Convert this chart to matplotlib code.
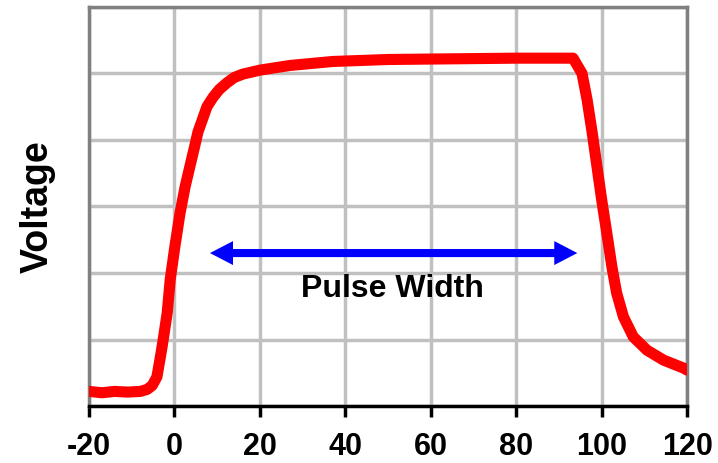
import numpy as np
import matplotlib.pyplot as plt

plt.rcParams['font.family'] = ['Liberation Sans', 'DejaVu Sans']

# pulse trace (time, voltage in grid units)
time = [-20, -17, -14, -11, -8, -6.4, -5.2, -4.1, -2.9, -1.7, -1.0, 0.1, 1.3, 2.5,
        3.6, 4.6, 5.5, 7.6, 9.0, 10.5, 12.3, 14.0, 16.0, 20, 27, 37, 50, 65, 80,
        90, 93.3, 95.4, 96.6, 97.8, 98.9, 100.0, 101.2, 102.4, 103.5, 105.1,
        107.4, 110.6, 114.5, 119.2, 120]
voltage = [0.22, 0.20, 0.22, 0.21, 0.22, 0.25, 0.31, 0.44, 0.89, 1.4, 1.9, 2.4,
           2.9, 3.3, 3.6, 3.87, 4.12, 4.5, 4.64, 4.76, 4.86, 4.94, 4.99, 5.05,
           5.12, 5.18, 5.21, 5.22, 5.23, 5.23, 5.23, 5.0, 4.6, 4.1, 3.6, 3.1, 2.6,
           2.09, 1.7, 1.34, 1.04, 0.84, 0.69, 0.57, 0.54]

xticks = [-20, 0, 20, 40, 60, 80, 100, 120]
arrow_x = [8.3, 94.3]
arrow_y = 2.3
head_len = 5.4

fig = plt.figure(figsize=(7.18, 4.63), dpi=100)
ax = fig.add_axes([0.124, 0.123, 0.833, 0.862])

ax.plot(time, voltage, color='#FF0000', lw=8, solid_joinstyle='round',
        solid_capstyle='round', zorder=3)

# double-headed arrow: two overlapping filled arrows pointing opposite ways
for start, end in [(arrow_x[1] - head_len, arrow_x[0]),
                   (arrow_x[0] + head_len, arrow_x[1])]:
    ax.arrow(start, arrow_y, end - start, 0, width=0.12, head_width=0.36,
             head_length=head_len, length_includes_head=True, lw=0,
             color='#0000FF', zorder=4)
ax.text(51, 1.76, 'Pulse Width', ha='center', va='center', fontsize=23,
        fontweight='bold')

ax.set_xlim(-20, 120)
ax.set_ylim(0, 6)
ax.set_xticks(xticks)
ax.set_xticklabels([str(t) for t in xticks], fontsize=22, fontweight='bold')
ax.set_yticks(np.arange(0, 7, 1))
ax.tick_params(axis='y', left=False, labelleft=False)
ax.tick_params(axis='x', direction='out', length=8, width=2.5, pad=11)
ax.grid(True, color='#C0C0C0', lw=2.5)
ax.set_axisbelow(True)

for side in ['left', 'top', 'right']:
    ax.spines[side].set_color('#808080')
    ax.spines[side].set_linewidth(2.5)
ax.spines['bottom'].set_color('black')
ax.spines['bottom'].set_linewidth(2.5)

ax.set_ylabel('Voltage', fontsize=27, fontweight='bold', labelpad=24)

fig.savefig('out.png', dpi=100)
